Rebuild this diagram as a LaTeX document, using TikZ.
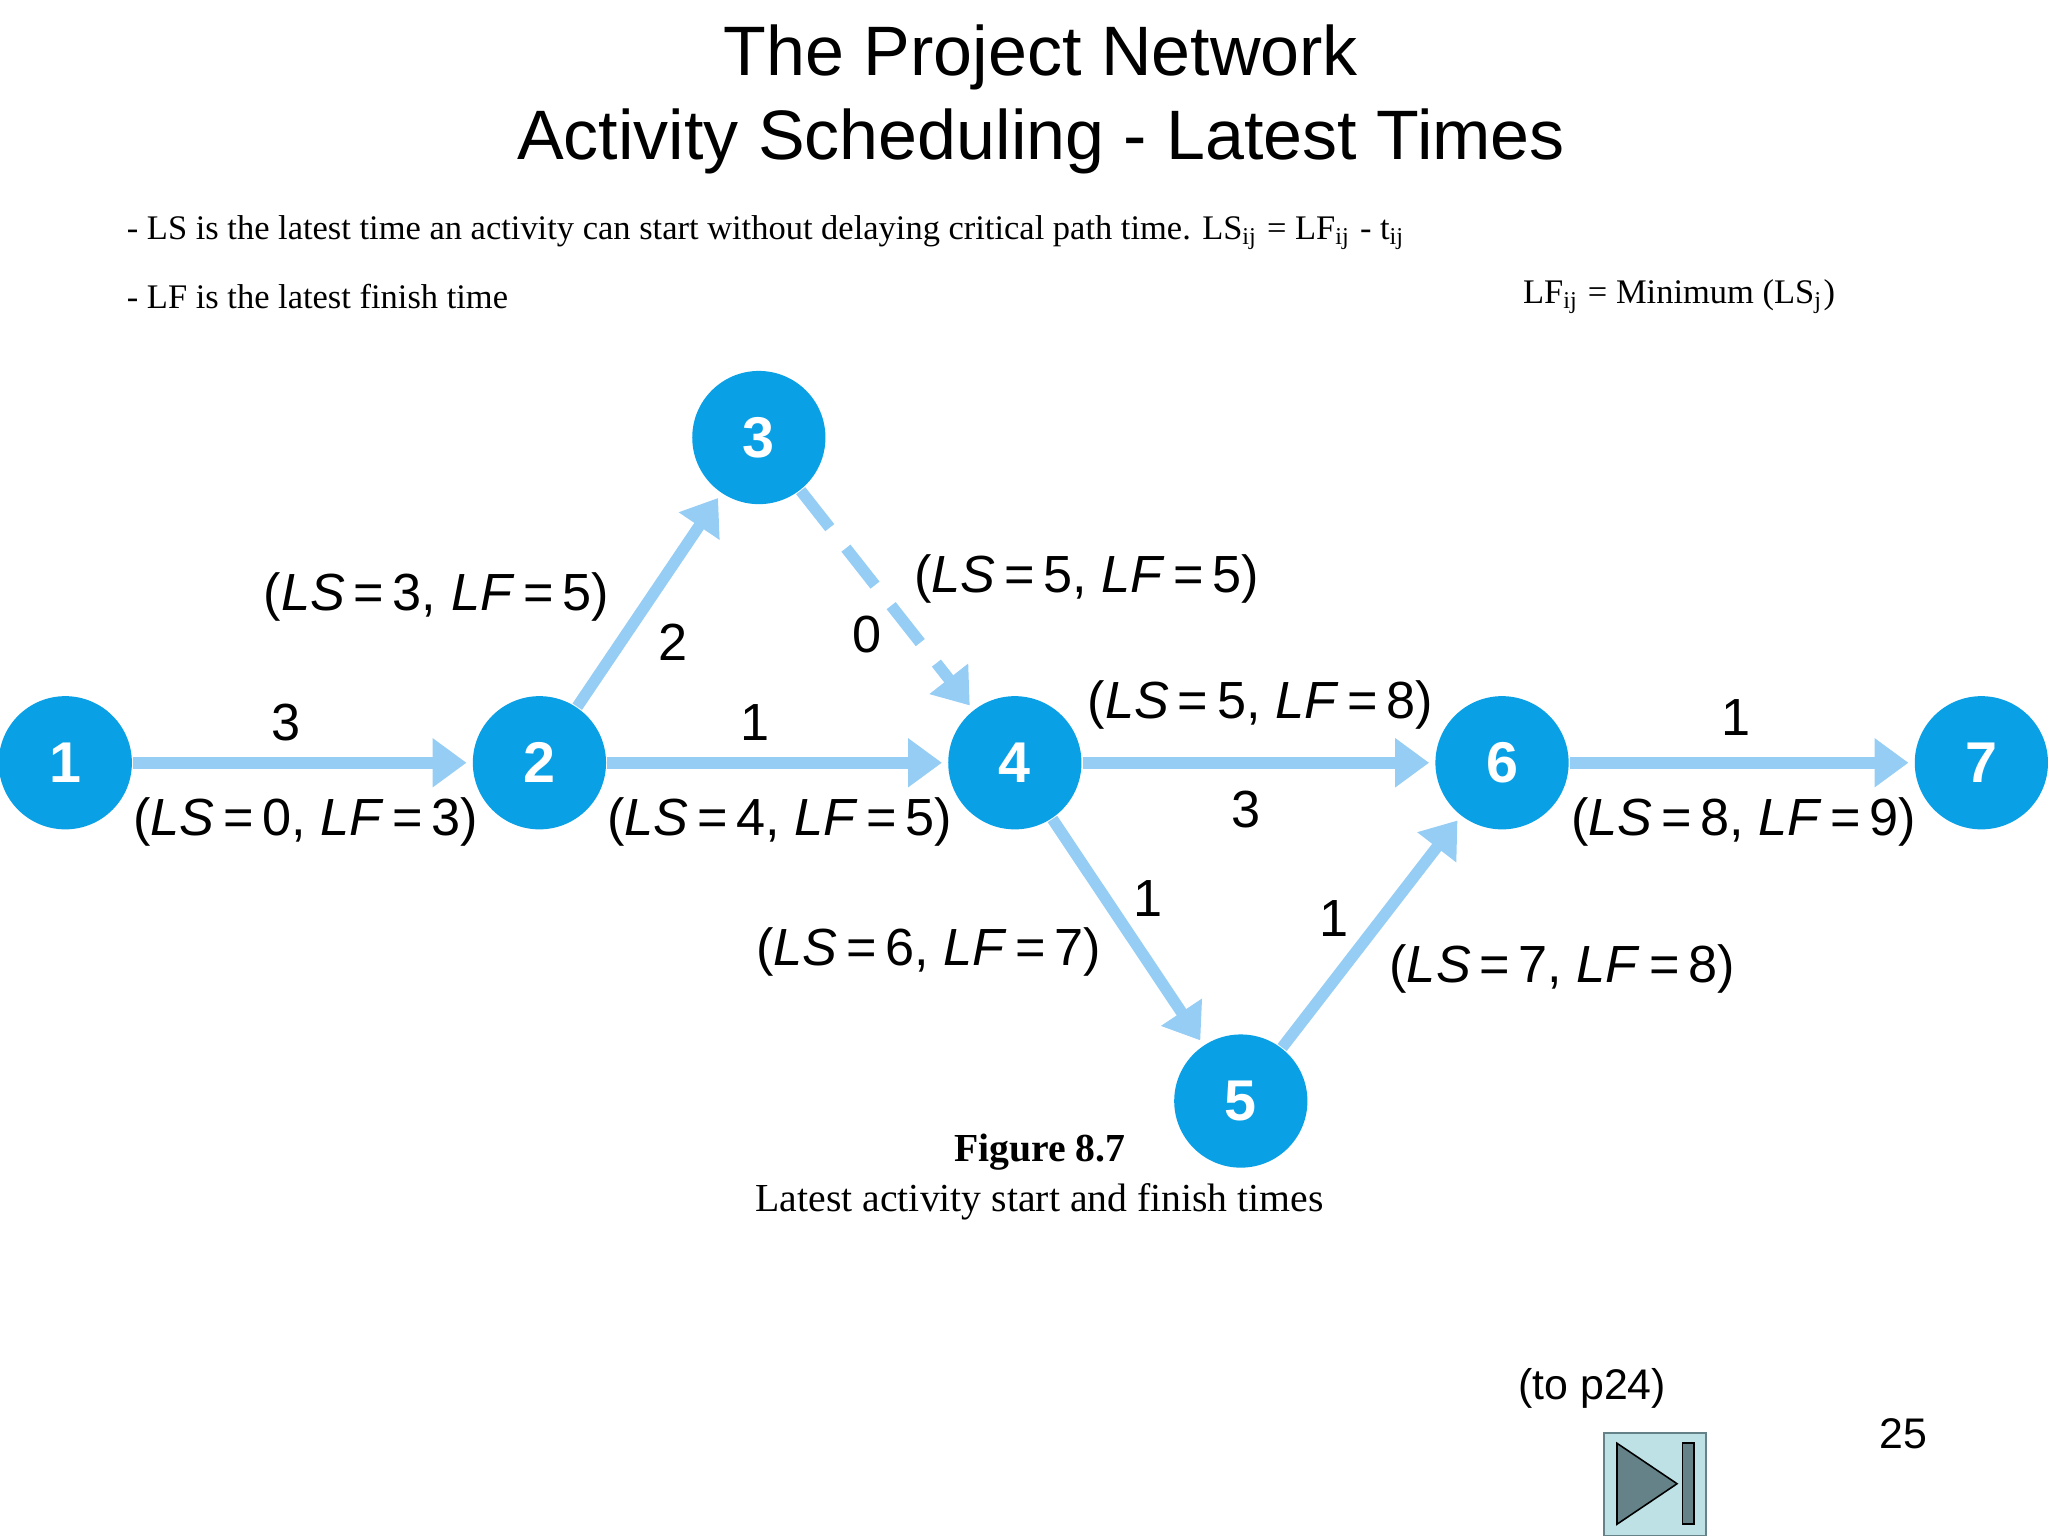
\documentclass[tikz,border=0pt]{standalone}
\usepackage{fontspec}
\setmainfont{Liberation Serif}
\setsansfont{Liberation Sans}
\usetikzlibrary{arrows.meta}
\definecolor{nodeblue}{RGB}{10,160,230}
\definecolor{edgeblue}{RGB}{150,205,245}
\definecolor{btnfill}{RGB}{190,225,230}
\definecolor{btngray}{RGB}{100,130,135}
\tikzset{
  ev/.style={circle,fill=nodeblue,minimum size=25.5pt,inner sep=0pt,text=white,font=\sffamily\bfseries\fontsize{11}{11}\selectfont},
  act/.style={draw=edgeblue,line width=2.2pt,-{Triangle[length=6.5pt,width=9pt]},shorten >=1pt},
  lbl/.style={font=\sffamily\fontsize{10}{12}\selectfont},
  txt/.style={font=\fontsize{6.6}{8}\selectfont,anchor=west}
}
\newcommand{\lsl}[2]{(\textit{LS}\,=\,#1,\ \textit{LF}\,=\,#2)}
\begin{document}
\begin{tikzpicture}[x=0.25pt,y=-0.25pt]
\useasboundingbox (0,0) rectangle (1568,1176);
\node[font=\sffamily\fontsize{13.4}{16}\selectfont,align=center] (title) at (797,76) {The Project Network\\Activity Scheduling - Latest Times};
\node[txt] (t1) at (83,178) {- LS is the latest time an activity can start without delaying critical path time. LS\textsubscript{ij} = LF\textsubscript{ij} - t\textsubscript{ij}};
\node[txt] (t2) at (83,227) {- LF is the latest finish time};
\node[txt] (t3) at (1152,227) {LF\textsubscript{ij} = Minimum (LS\textsubscript{j})};

\node[ev] (n1) at (50,584) {1};
\node[ev] (n2) at (413,584) {2};
\node[ev] (n3) at (581,335) {3};
\node[ev] (n4) at (777,584) {4};
\node[ev] (n5) at (950,843) {5};
\node[ev] (n6) at (1150,584) {6};
\node[ev] (n7) at (1517,584) {7};

\draw[act] (n1) -- (n2);
\draw[act] (n2) -- (n3);
\draw[act] (n2) -- (n4);
\draw[act,dash pattern=on 9pt off 5pt] (n3) -- (n4);
\draw[act] (n4) -- (n6);
\draw[act] (n4) -- (n5);
\draw[act] (n5) -- (n6);
\draw[act] (n6) -- (n7);

\node[lbl] (a1) at (219,553) {3};
\node[lbl] (a2) at (515,492) {2};
\node[lbl] (a3) at (578,553) {1};
\node[lbl] (a4) at (664,486) {0};
\node[lbl] (a5) at (954,620) {3};
\node[lbl] (a6) at (879,688) {1};
\node[lbl] (a7) at (1021,703) {1};
\node[lbl] (a8) at (1329,549) {1};

\node[lbl] (b1) at (234,629) {\lsl{0}{3}};
\node[lbl] (b2) at (334,457) {\lsl{3}{5}};
\node[lbl] (b3) at (597,629) {\lsl{4}{5}};
\node[lbl] (b4) at (832,443) {\lsl{5}{5}};
\node[lbl] (b5) at (965,540) {\lsl{5}{8}};
\node[lbl] (b6) at (711,729) {\lsl{6}{7}};
\node[lbl] (b7) at (1196,742) {\lsl{7}{8}};
\node[lbl] (b8) at (1335,629) {\lsl{8}{9}};

\node[font=\fontsize{7.6}{9.5}\selectfont,align=center] (cap) at (796,901) {\textbf{Figure 8.7}\\Latest activity start and finish times};
\node[font=\sffamily\fontsize{8.2}{10}\selectfont] (to) at (1219,1063) {(to p24)};
\node[font=\sffamily\fontsize{8.2}{10}\selectfont] (pg) at (1457,1098) {25};

\draw[fill=btnfill,draw=btngray,line width=0.4pt] (1228,1097) rectangle (1306,1176);
\fill[btngray,draw=black,line width=0.3pt] (1238,1105) -- (1284,1136) -- (1238,1167) -- cycle;
\fill[btngray,draw=black,line width=0.3pt] (1288,1105) rectangle (1297,1167);
\end{tikzpicture}
\end{document}
